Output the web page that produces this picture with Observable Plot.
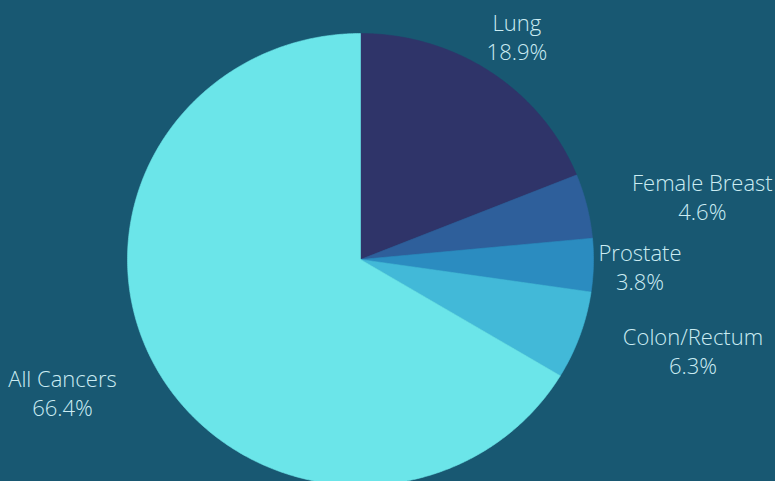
<!DOCTYPE html>
<html>
<head>
<meta charset="utf-8">
<script src="https://cdn.jsdelivr.net/npm/d3@7"></script>
<script src="https://cdn.jsdelivr.net/npm/@observablehq/plot@0.6"></script>
<style>
  html, body { margin: 0; padding: 0; background: #185872; overflow: hidden; }
  #chart { width: 775px; height: 481px; }
</style>
</head>
<body>
<div id="chart"></div>
<script>
// ---- data ----
const categories = ["Lung", "Female Breast", "Prostate", "Colon/Rectum", "All Cancers"];
const shares = [18.9, 4.6, 3.8, 6.3, 66.4];
const shareLabels = ["18.9%", "4.6%", "3.8%", "6.3%", "66.4%"];
const sliceColors = ["#2f3469", "#2e5f9b", "#2b8cc0", "#42b9d8", "#6be5e9"];

// ---- layout ----
const W = 775, H = 481;
const xRange = [127, 593];   // pie horizontal extent
const yRange = [485, 33];    // pie vertical extent
const labelRadiusX = [1.2, 1.51, 1.2, 1.515, 1.47]; // label distance factor (horizontal)
const labelRadiusY = 1.19;                          // label distance factor (vertical)
const fontSize = 22, lineHeight = 1.32;
const fontFamily = "'Open Sans', 'Noto Sans', sans-serif";

const table = categories.map((name, i) => ({name, share: shares[i], label: shareLabels[i]}));
const arcs = d3.pie().sort(null).value(d => d.share)(table);

// polygon points for each slice
const pts = [];
for (const a of arcs) {
  pts.push({name: a.data.name, x: 0, y: 0});
  const n = Math.max(2, Math.ceil((a.endAngle - a.startAngle) / (Math.PI / 360)));
  for (let k = 0; k <= n; k++) {
    const t = a.startAngle + (a.endAngle - a.startAngle) * k / n;
    pts.push({name: a.data.name, x: Math.sin(t), y: Math.cos(t)});
  }
  pts.push({name: a.data.name, x: 0, y: 0});
}

// label positions from slice mid-angles
const labelData = arcs.map((a, i) => {
  const t = (a.startAngle + a.endAngle) / 2;
  return {
    text: a.data.name + "\n" + a.data.label,
    x: Math.sin(t) * labelRadiusX[i],
    y: Math.cos(t) * labelRadiusY
  };
});

const chart = Plot.plot({
  width: W,
  height: H,
  margin: 0,
  style: {background: "#185872", fontFamily, overflow: "hidden"},
  x: {domain: [-1, 1], range: xRange, axis: null},
  y: {domain: [-1, 1], range: yRange, axis: null},
  color: {domain: categories, range: sliceColors},
  marks: [
    Plot.line(pts, {x: "x", y: "y", z: "name", fill: "name", stroke: "name", strokeWidth: 0.6, curve: "linear"}),
    Plot.text(labelData, {
      x: "x", y: "y", text: "text",
      fill: "#cbecf2",
      fontSize,
      fontWeight: 300,
      lineHeight,
      textAnchor: "middle",
      lineAnchor: "middle"
    })
  ]
});
document.getElementById("chart").append(chart);
</script>
</body>
</html>
